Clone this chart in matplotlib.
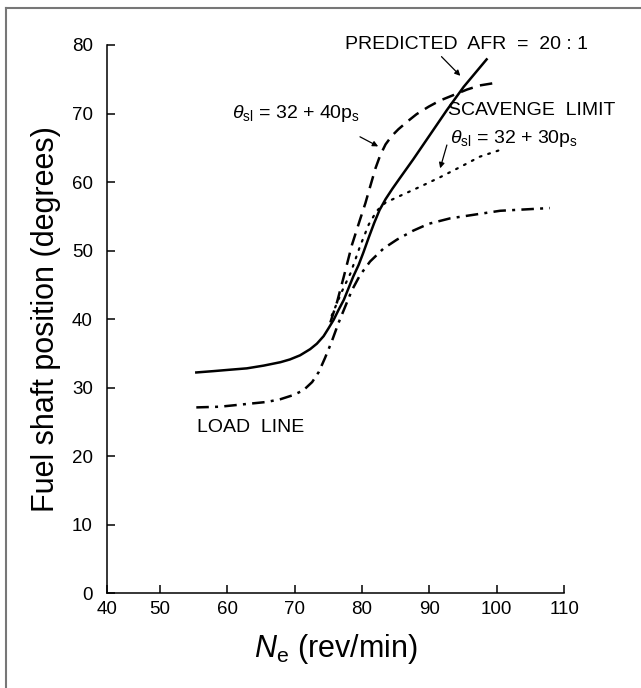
import matplotlib.pyplot as plt
import numpy as np
from matplotlib.lines import Line2D

plt.rcParams['font.family'] = ['Liberation Sans', 'DejaVu Sans']
plt.rcParams['mathtext.fontset'] = 'custom'
plt.rcParams['mathtext.rm'] = 'Liberation Sans'
plt.rcParams['mathtext.it'] = 'Liberation Sans:italic'

# predicted AFR = 20:1 (solid)
afr_n = [55.4, 58.0, 60.4, 62.9, 65.4, 67.9, 69.3, 70.8, 72.3, 73.3, 74.3, 75.0, 75.8, 76.5,
         77.3, 78.0, 78.7, 79.5, 80.2, 81.0, 81.8, 82.6, 83.5, 84.5, 85.5, 87.6, 90.1, 92.6,
         95.1, 98.5]
afr_t = [32.2, 32.4, 32.6, 32.8, 33.2, 33.7, 34.1, 34.7, 35.6, 36.4, 37.5, 38.6, 39.9, 41.3,
         42.8, 44.5, 46.2, 47.9, 49.7, 51.9, 54.0, 55.9, 57.5, 59.0, 60.4, 63.3, 66.9, 70.5,
         73.9, 77.9]

# theta_sl = 32 + 40 p_s (dashed)
sl40_n = [75.3, 76.3, 77.3, 78.5, 79.7, 80.5, 81.2, 82.0, 82.7, 83.5, 84.4, 85.4, 86.7, 88.1,
          89.9, 91.6, 93.6, 95.6, 97.5, 100.0]
sl40_t = [39.5, 42.5, 46.2, 50.8, 54.5, 56.9, 59.3, 62.0, 63.9, 65.5, 66.7, 67.7, 68.8, 69.9,
          71.0, 71.9, 72.7, 73.5, 74.1, 74.5]

# theta_sl = 32 + 30 p_s (dotted)
sl30_n = [75.5, 77.0, 78.3, 79.7, 81.0, 82.2, 83.5, 85.7, 88.6, 91.6, 94.6, 97.5, 101.2]
sl30_t = [40.5, 44.0, 46.7, 50.6, 53.8, 55.8, 57.0, 58.0, 59.3, 60.7, 62.2, 63.7, 64.9]

# load line (dash-dot)
load_n = [55.4, 58.9, 62.9, 65.9, 67.9, 69.8, 71.3, 72.6, 73.6, 74.5, 75.5, 76.5, 77.5, 78.5,
          79.7, 81.2, 83.2, 85.2, 87.6, 89.9, 93.1, 100.5, 107.9]
load_t = [27.1, 27.2, 27.6, 27.9, 28.3, 28.9, 29.6, 30.8, 32.3, 34.3, 36.7, 39.4, 41.8, 44.2,
          46.4, 48.4, 50.3, 51.6, 52.9, 53.9, 54.7, 55.8, 56.2]

xticks = [42.1, 50, 60, 70, 80, 90, 100, 110]
xlabels = ['40', '50', '60', '70', '80', '90', '100', '110']
yticks = [0, 10, 20, 30, 40, 50, 60, 70, 80]

fig = plt.figure(figsize=(6.41, 6.88), dpi=100)
ax = fig.add_axes([0.1665, 0.138, 0.7135, 0.7966])

ax.plot(afr_n, afr_t, color='black', lw=1.8, solid_joinstyle='round')
ax.plot(sl40_n, sl40_t, color='black', lw=1.8, dashes=(5, 3))
ax.plot(sl30_n, sl30_t, color='black', lw=1.6, dashes=(0.8, 3.2), dash_capstyle='round')
ax.plot(load_n, load_t, color='black', lw=1.8, dashes=(5, 2.5, 1.2, 2.5))

ax.set_xlim(42.1, 110)
ax.set_ylim(0, 80)
ax.set_xticks(xticks)
ax.set_xticklabels(xlabels)
ax.set_yticks(yticks)
ax.spines['top'].set_visible(False)
ax.spines['right'].set_visible(False)
for s in ['left', 'bottom']:
    ax.spines[s].set_linewidth(1.1)
ax.tick_params(direction='in', length=6, width=1.1, labelsize=13.5)
ax.tick_params(axis='x', pad=6)
ax.tick_params(axis='y', pad=10)

ax.set_ylabel('Fuel shaft position (degrees)', fontsize=22, labelpad=8)
ax.set_xlabel(r'$N_{\rm e}$ (rev/min)', fontsize=22, labelpad=10)

ax.text(77.5, 80, 'PREDICTED  AFR  =  20 : 1', fontsize=14, va='center', ha='left')
ax.text(92.8, 70.5, 'SCAVENGE  LIMIT', fontsize=14, va='center', ha='left')
ax.text(60.7, 70.0, r'$\theta_{\rm sl}$ = 32 + 40p$_{\rm s}$', fontsize=14, va='center', ha='left')
ax.text(93.1, 66.4, r'$\theta_{\rm sl}$ = 32 + 30p$_{\rm s}$', fontsize=14, va='center', ha='left')
ax.text(55.5, 24.1, 'LOAD  LINE', fontsize=14, va='center', ha='left')

arw = dict(arrowstyle='-|>', color='black', lw=0.9, mutation_scale=8, shrinkA=0, shrinkB=0)
ax.annotate('', xy=(94.6, 75.5), xytext=(91.8, 78.3), arrowprops=arw)
ax.annotate('', xy=(82.4, 65.2), xytext=(79.7, 66.6), arrowprops=arw)
ax.annotate('', xy=(91.6, 62.0), xytext=(92.6, 65.4), arrowprops=arw)

# frame round the figure (left and top edges only visible)
fig.add_artist(Line2D([6 / 641, 6 / 641], [0, 1 - 8 / 688], color='#777777', lw=1.5))
fig.add_artist(Line2D([6 / 641, 1], [1 - 8 / 688, 1 - 8 / 688], color='#777777', lw=1.5))

fig.savefig('out.png', dpi=100)
